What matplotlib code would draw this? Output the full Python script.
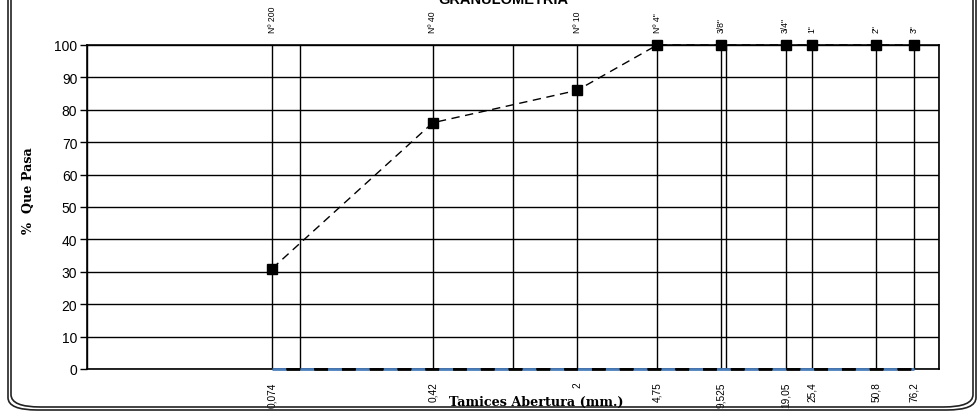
import matplotlib
matplotlib.use("Agg")
import matplotlib.pyplot as plt
from matplotlib.ticker import LogLocator, FixedLocator, NullFormatter
from matplotlib.patches import FancyBboxPatch

# Data
sieve_names = ['Nº 200', 'Nº 40', 'Nº 10', 'Nº 4"', '3/8"', '3/4"', '1"', '2"', '3"']
sieve_mm = [0.074, 0.42, 2, 4.75, 9.525, 19.05, 25.4, 50.8, 76.2]
sieve_labels = ['0,074', '0,42', '2', '4,75', '9,525', '19,05', '25,4', '50,8', '76,2']
pct_passing = [31, 76, 86, 100, 100, 100, 100, 100, 100]
zero_series = [0, 0, 0, 0, 0, 0, 0, 0, 0]
y_ticks = [0, 10, 20, 30, 40, 50, 60, 70, 80, 90, 100]

plt.rcParams['font.family'] = ['Liberation Sans', 'DejaVu Sans']

fig = plt.figure(figsize=(9.8, 4.14), dpi=100)
W, H = 980, 414
ax = fig.add_axes([87 / W, (H - 370) / H, (939 - 87) / W, (370 - 46) / H])

ax.set_xscale('log')
ax.set_xlim(0.01, 100)
ax.set_ylim(0, 100)

# vertical grid: sieves (major) + decades (minor)
ax.xaxis.set_major_locator(FixedLocator(sieve_mm))
ax.set_xticklabels(sieve_labels, rotation=90, fontsize=7.3)
ax.xaxis.set_minor_locator(LogLocator(base=10, subs=(1.0,)))
ax.xaxis.set_minor_formatter(NullFormatter())
ax.tick_params(axis='x', which='both', length=0, pad=9)
ax.set_yticks(y_ticks)
ax.tick_params(axis='y', length=5, width=1, labelsize=10, pad=2, color='black')
ax.grid(True, which='both', axis='x', color='black', linewidth=1)
ax.grid(True, which='major', axis='y', color='black', linewidth=1)
ax.set_axisbelow(True)
for s in ax.spines.values():
    s.set_color('black')
    s.set_linewidth(1.2)

# series
ax.plot(sieve_mm, zero_series, color='#4a7ebb', linestyle=(0, (5, 5)), linewidth=2.0,
        clip_on=False, zorder=4)
ax.plot(sieve_mm, zero_series, color='black', linestyle=(5, (5, 5)), linewidth=2.0,
        clip_on=False, zorder=4)
ax.plot(sieve_mm, pct_passing, color='black', linestyle=(0, (6, 4)), linewidth=1,
        marker='s', markersize=6.5, markerfacecolor='black', markeredgecolor='black',
        clip_on=False, zorder=5)

# top sieve names
for x, name in zip(sieve_mm, sieve_names):
    ax.annotate(name, xy=(x, 1), xycoords=('data', 'axes fraction'),
                xytext=(0, 9.5), textcoords='offset points',
                rotation=90, ha='center', va='bottom', fontsize=6.2)

# titles / labels
fig.text(503 / W, 1 - 4 / H, 'GRANULOMETRIA', ha='center', va='baseline',
         fontsize=10.5, fontweight='bold')
fig.text(536 / W, 1 - 402 / H, 'Tamices Abertura (mm.)', ha='center', va='center',
         fontsize=9.2, fontweight='bold', family=['DejaVu Serif'])
fig.text(28 / W, 1 - 191 / H, '%  Que Pasa', ha='center', va='center', rotation=90,
         fontsize=9.2, fontweight='bold', family=['DejaVu Serif'])

# rounded double border
for off, lw in [(0, 1.2), (3, 1.2)]:
    box = FancyBboxPatch(((8 + off) / W, (H - 411 + off) / H), (968 - 2 * off) / W,
                         (430 - 2 * off) / H,
                         boxstyle='round,pad=0,rounding_size=0.03',
                         transform=fig.transFigure, fill=False,
                         edgecolor='#222222', linewidth=lw, clip_on=False)
    fig.patches.append(box)

fig.savefig('out.png', dpi=100)
